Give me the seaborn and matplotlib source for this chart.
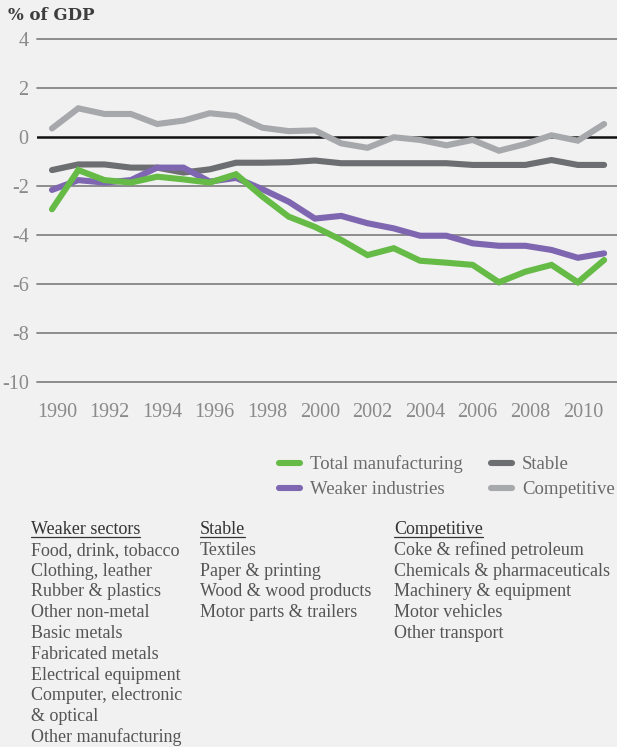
import matplotlib
matplotlib.use("Agg")
import matplotlib.pyplot as plt
import matplotlib.transforms as mtransforms
import numpy as np
import pandas as pd
import seaborn as sns
from matplotlib.lines import Line2D

# ---------------- data ----------------
years = list(range(1990, 2012))
total_manufacturing = [-2.95, -1.35, -1.76, -1.86, -1.62, -1.73, -1.86, -1.52, -2.43, -3.25, -3.67,
                       -4.20, -4.82, -4.54, -5.05, -5.13, -5.22, -5.93, -5.50, -5.22, -5.93, -5.02]
weaker_industries = [-2.16, -1.76, -1.86, -1.76, -1.25, -1.25, -1.82, -1.67, -2.13, -2.64, -3.33,
                     -3.22, -3.52, -3.73, -4.03, -4.03, -4.34, -4.44, -4.44, -4.61, -4.93, -4.75]
stable = [-1.35, -1.12, -1.12, -1.25, -1.25, -1.45, -1.32, -1.05, -1.05, -1.03, -0.96,
          -1.07, -1.07, -1.07, -1.07, -1.07, -1.14, -1.14, -1.14, -0.94, -1.14, -1.14]
competitive = [0.35, 1.17, 0.94, 0.94, 0.53, 0.67, 0.97, 0.86, 0.38, 0.24, 0.27,
               -0.26, -0.44, -0.01, -0.12, -0.34, -0.12, -0.56, -0.29, 0.07, -0.15, 0.53]

series_names = ["Total manufacturing", "Weaker industries", "Stable", "Competitive"]
series_colors = ["#66bb47", "#7e66b0", "#6d6e71", "#a7a8ab"]

y_ticks = [-10, -8, -6, -4, -2, 0, 2, 4]
y_tick_labels = ["-10", "-8", "-6", "-4", "-2", "0", "2", "4"]
x_ticks = [1990, 1992, 1994, 1996, 1998, 2000, 2002, 2004, 2006, 2008, 2010]
x_tick_labels = [str(v) for v in x_ticks]

title = "% of GDP"
weaker_heading = "Weaker sectors"
weaker_list = ["Food, drink, tobacco", "Clothing, leather", "Rubber & plastics", "Other non-metal",
               "Basic metals", "Fabricated metals", "Electrical equipment", "Computer, electronic",
               "& optical", "Other manufacturing"]
stable_heading = "Stable"
stable_list = ["Textiles", "Paper & printing", "Wood & wood products", "Motor parts & trailers"]
competitive_heading = "Competitive"
competitive_list = ["Coke & refined petroleum", "Chemicals & pharmaceuticals", "Machinery & equipment",
                    "Motor vehicles", "Other transport"]

# ---------------- figure ----------------
W, H = 617, 747
BG = "#f1f1f1"
sns.set_theme(style="white")
plt.rcParams["font.family"] = ["Liberation Serif", "DejaVu Serif"]

fig = plt.figure(figsize=(W / 100, H / 100), dpi=100, facecolor=BG)
ax = fig.add_axes([37 / W, 1 - 382 / H, (617 - 37) / W, (382 - 39) / H])
ax.set_facecolor(BG)

df = pd.DataFrame({
    "year": years * 4,
    "value": total_manufacturing + weaker_industries + stable + competitive,
    "series": sum([[n] * len(years) for n in series_names], []),
})
palette = dict(zip(series_names, series_colors))
draw_order = ["Competitive", "Stable", "Weaker industries", "Total manufacturing"]

# grid lines
for t in y_ticks:
    if t == 0:
        continue
    ax.axhline(t, color="#858585", lw=1.3, zorder=1, clip_on=False)

sns.lineplot(data=df, x="year", y="value", hue="series", hue_order=draw_order,
             palette=palette, linewidth=4.4, legend=False, ax=ax, zorder=3,
             solid_capstyle="round", solid_joinstyle="miter")
ax.axhline(0, color="#111111", lw=1.8, zorder=2)

ax.set_xlim(1989.43, 2011.49)
ax.set_ylim(-10, 4)
for s in ax.spines.values():
    s.set_visible(False)
ax.set_xlabel("")
ax.set_ylabel("")
ax.set_yticks(y_ticks)
ax.set_yticklabels(y_tick_labels)
ax.set_xticks(x_ticks)
ax.set_xticklabels(x_tick_labels)
ax.tick_params(axis="both", length=0, labelsize=14.5, colors="#8a8a8a")
ax.tick_params(axis="y", pad=6)
ax.tick_params(axis="x", pad=15)
offset = mtransforms.ScaledTranslation(5 / 100, 0, fig.dpi_scale_trans)
for lab in ax.get_xticklabels():
    lab.set_transform(lab.get_transform() + offset)

# title
fig.text(8 / W, 1 - 15 / H, title, family=["DejaVu Serif"], fontweight="bold",
         fontsize=12, color="#3d3d3d", va="center", ha="left")

# legend
handles = [Line2D([], [], color=palette[n], lw=4.4, solid_capstyle="round") for n in series_names]
fig.legend(handles, series_names, ncol=2, loc="upper left",
           bbox_to_anchor=(270 / W, 1 - 446 / H), frameon=False, borderpad=0,
           fontsize=13.5, handlelength=1.1, handletextpad=0.55, columnspacing=1.5,
           labelspacing=0.42, labelcolor="#6a6a6a")

# sector lists
text_color = "#555555"
head_color = "#333333"
line_step = 20.8
first_baseline = 534


def column(x, heading, items):
    t = fig.text(x / W, 1 - first_baseline / H, heading, fontsize=13, color=head_color,
                 va="baseline", ha="left")
    for i, s in enumerate(items):
        fig.text(x / W, 1 - (first_baseline + line_step * (i + 1)) / H, s, fontsize=13,
                 color=text_color, va="baseline", ha="left")
    return t


heads = [column(31, weaker_heading, weaker_list),
         column(200, stable_heading, stable_list),
         column(394, competitive_heading, competitive_list)]

fig.canvas.draw()
r = fig.canvas.get_renderer()
for t in heads:
    bb = t.get_window_extent(renderer=r)
    yb = (H - first_baseline - 2.5) / H
    fig.add_artist(Line2D([bb.x0 / W, bb.x1 / W], [yb, yb], color=head_color, lw=0.9,
                          transform=fig.transFigure))

fig.savefig("out.png", dpi=100, facecolor=BG)
